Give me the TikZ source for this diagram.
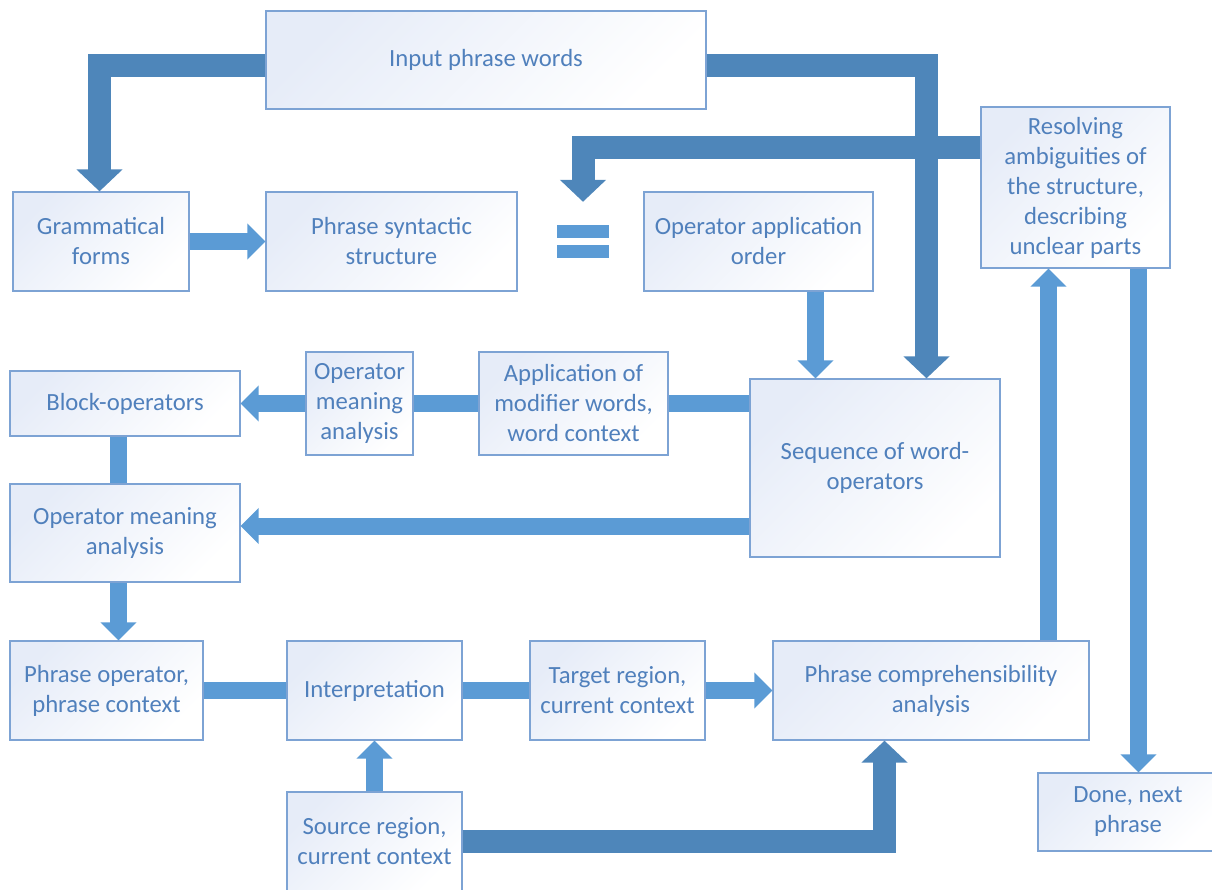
\documentclass[tikz,border=0pt]{standalone}
\usepackage{fontspec}
\setmainfont{Carlito}
\usetikzlibrary{arrows.meta, calc}
\definecolor{boxline}{RGB}{125,163,212}
\definecolor{boxtext}{RGB}{80,128,188}
\definecolor{boxtint}{RGB}{230,236,248}
\definecolor{lightflow}{RGB}{91,155,213}
\definecolor{darkflow}{RGB}{78,134,186}
\begin{document}
\begin{tikzpicture}[x=1pt, y=-1pt,
	blk/.style={draw=boxline, line width=1.3pt, top color=boxtint, bottom color=white, shading angle=45, text=boxtext, align=center, inner sep=2pt, font=\fontsize{24.7}{30}\selectfont},
	band/.style={draw=lightflow, line width=17pt},
	flow/.style={band, -{Triangle[width=35pt,length=18pt]}},
	bigflow/.style={draw=darkflow, line width=23pt, -{Triangle[width=45pt,length=22pt]}}]
	\useasboundingbox (0,0) rectangle (1212,890);
	\node[blk, minimum width=440pt, minimum height=98pt] (inp) at (486,60) {Input phrase words};
	\node[blk, minimum width=176pt, minimum height=99pt] (gram) at (101,241.5) {Grammatical\\forms};
	\node[blk, minimum width=251pt, minimum height=99pt] (syn) at (391.5,241.5) {Phrase syntactic\\structure};
	\node[minimum width=52pt, minimum height=33pt, inner sep=0pt] (eq) at (583,241.5) {};
	\node[blk, minimum width=229pt, minimum height=99pt] (ord) at (758.5,241.5) {Operator application\\order};
	\node[blk, minimum width=189pt, minimum height=161pt] (res) at (1075.5,187.5) {Resolving\\ambiguities of\\the structure,\\describing\\unclear parts};
	\node[blk, minimum width=230pt, minimum height=65pt] (blkop) at (125,403.5) {Block-operators};
	\node[blk, minimum width=107pt, minimum height=103pt] (omsm) at (359.5,403.5) {Operator\\meaning\\analysis};
	\node[blk, minimum width=189pt, minimum height=103pt] (app) at (573.5,403.5) {Application of\\modifier words,\\word context};
	\node[blk, minimum width=250pt, minimum height=178pt] (seq) at (875,468) {Sequence of word-\\operators};
	\node[blk, minimum width=230pt, minimum height=98pt] (oml) at (125,533) {Operator meaning\\analysis};
	\node[blk, minimum width=193pt, minimum height=99pt] (pop) at (106.5,690.5) {Phrase operator,\\phrase context};
	\node[blk, minimum width=175pt, minimum height=99pt] (intp) at (374.5,690.5) {Interpretation};
	\node[blk, minimum width=175pt, minimum height=99pt] (tgt) at (617.5,690.5) {Target region,\\current context};
	\node[blk, minimum width=316pt, minimum height=99pt] (cmp) at (931,690.5) {Phrase comprehensibility\\analysis};
	\node[blk, minimum width=175pt, minimum height=99pt] (src) at (374.5,841.5) {Source region,\\current context};
	\node[blk, minimum width=180pt, minimum height=78pt] (done) at (1128,812) {Done, next\\phrase};
	\fill[lightflow] (eq.north west) rectangle ($(eq.north east)+(0,13)$);
	\fill[lightflow] ($(eq.south west)+(0,-13)$) rectangle (eq.south east);
	\draw[flow] (gram.east) -- (syn.west);
	\draw[flow] ([xshift=57pt]ord.south) -- ([xshift=57pt]ord.south |- seq.north);
	\draw[band] (app.east) -- (app.east -| seq.west);
	\draw[band] (omsm.east) -- (app.west);
	\draw[flow] (omsm.west) -- (blkop.east);
	\draw[band] ([xshift=-6.5pt]blkop.south) -- ([xshift=-6.5pt]blkop.south |- oml.north);
	\draw[flow] ([yshift=-58pt]seq.west) -- ([yshift=-58pt]seq.west -| oml.east);
	\draw[flow] ([xshift=-6.5pt]oml.south) -- ([xshift=-6.5pt]oml.south |- pop.north);
	\draw[band] (pop.east) -- (intp.west);
	\draw[band] (intp.east) -- (tgt.west);
	\draw[flow] (tgt.east) -- (cmp.west);
	\draw[flow] (src.north) -- (intp.south);
	\draw[flow] ([xshift=-27pt]res.south |- cmp.north) -- ([xshift=-27pt]res.south);
	\draw[flow] ([xshift=63pt]res.south) -- ([xshift=63pt]res.south |- done.north);
	\draw[bigflow] ([yshift=-6pt]inp.west) -| ([xshift=-1.5pt]gram.north);
	\draw[bigflow] ([yshift=-6pt]inp.east) -| ([xshift=51.5pt]seq.north);
	\draw[bigflow] ([yshift=40pt]res.west) -| ([yshift=23pt]eq.north);
	\draw[bigflow] (src.east) -| ([xshift=-46.5pt]cmp.south);
\end{tikzpicture}
\end{document}
